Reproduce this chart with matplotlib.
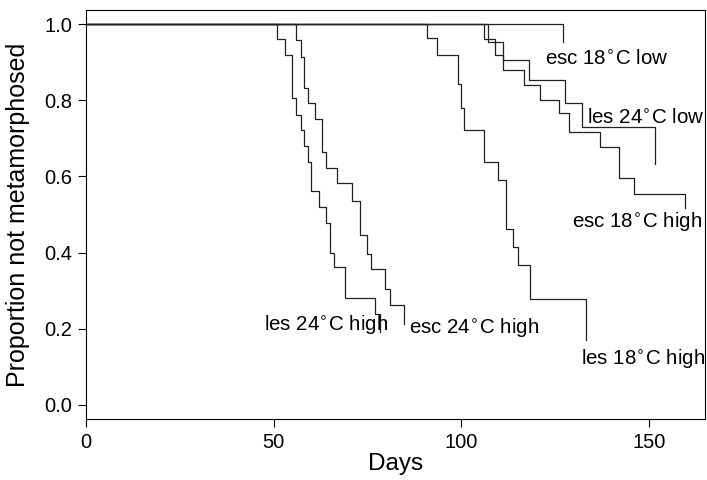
import matplotlib
matplotlib.use("Agg")
import matplotlib.pyplot as plt

plt.rcParams['font.family'] = ['Liberation Sans', 'DejaVu Sans']

# event days and survival proportion after each event
les24_high_days = [51.0, 53.0, 55.0, 56.0, 57.2, 58.1, 59.1, 60.0, 62.0, 64.0, 65.1, 66.2, 69.1, 76.9, 78.4]
les24_high_surv = [0.961, 0.919, 0.805, 0.761, 0.721, 0.680, 0.639, 0.561, 0.520, 0.477, 0.400, 0.361, 0.281, 0.239, 0.192]

esc24_high_days = [55.9, 57.2, 58.0, 59.1, 61.0, 62.8, 64.0, 67.0, 70.8, 72.9, 74.8, 75.9, 79.7, 81.1, 84.8]
esc24_high_surv = [0.959, 0.915, 0.833, 0.792, 0.751, 0.665, 0.623, 0.582, 0.536, 0.446, 0.397, 0.356, 0.305, 0.263, 0.213]

les18_high_days = [90.8, 93.5, 99.1, 99.9, 100.8, 106.0, 109.9, 112.0, 113.9, 115.1, 118.2, 133.1]
les18_high_surv = [0.963, 0.919, 0.842, 0.780, 0.721, 0.637, 0.592, 0.463, 0.415, 0.367, 0.278, 0.171]

esc18_high_days = [106.1, 109.0, 111.1, 116.8, 120.9, 125.9, 128.7, 137.0, 142.1, 145.9, 159.7]
esc18_high_surv = [0.961, 0.919, 0.880, 0.840, 0.800, 0.766, 0.718, 0.677, 0.597, 0.554, 0.516]

les24_low_days = [107.0, 111.1, 117.9, 127.7, 132.1, 151.6]
les24_low_surv = [0.954, 0.906, 0.853, 0.793, 0.729, 0.634]

esc18_low_days = [127.1]
esc18_low_surv = [0.954]

curves = [
    (les24_high_days, les24_high_surv, 'les 24$^{\\circ}$C high', 47.5, 0.21),
    (esc24_high_days, esc24_high_surv, 'esc 24$^{\\circ}$C high', 86.0, 0.20),
    (les18_high_days, les18_high_surv, 'les 18$^{\\circ}$C high', 131.8, 0.121),
    (esc18_high_days, esc18_high_surv, 'esc 18$^{\\circ}$C high', 129.6, 0.48),
    (les24_low_days, les24_low_surv, 'les 24$^{\\circ}$C low', 133.6, 0.753),
    (esc18_low_days, esc18_low_surv, 'esc 18$^{\\circ}$C low', 122.2, 0.908),
]

fig = plt.figure(figsize=(7.07, 4.80), dpi=100)
ax = fig.add_axes([0.1216, 0.127, 0.876, 0.852])

for days, surv, label, tx, ty in curves:
    ax.step([0] + days, [1.0] + surv, where='post', color='#222222', lw=0.9)
    ax.text(tx, ty, label, fontsize=14.8, va='center', ha='left')

ax.set_xlim(0, 165)
ax.set_ylim(-0.037, 1.037)
ax.set_xticks([0, 50, 100, 150])
ax.set_yticks([0.0, 0.2, 0.4, 0.6, 0.8, 1.0])
ax.set_yticklabels(['0.0', '0.2', '0.4', '0.6', '0.8', '1.0'])
ax.tick_params(direction='out', length=6, width=0.8, labelsize=14.5, pad=4)
for s in ax.spines.values():
    s.set_linewidth(0.8)
ax.set_xlabel('Days', fontsize=17.5, labelpad=1)
ax.set_ylabel('Proportion not metamorphosed', fontsize=18, labelpad=10)

fig.savefig('out.png', dpi=100)
